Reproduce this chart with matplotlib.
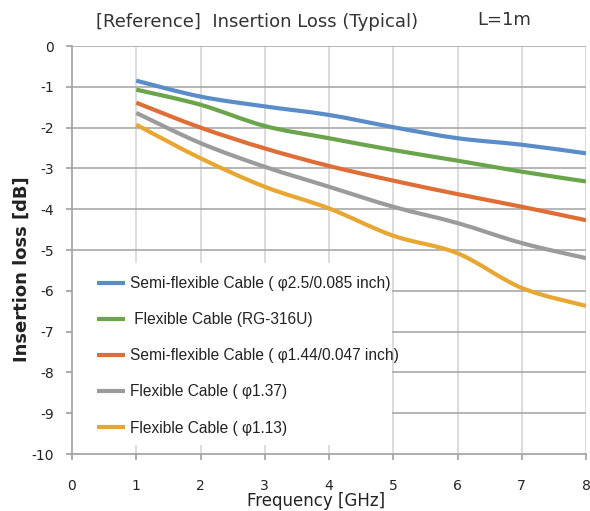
import matplotlib
matplotlib.use("Agg")
import matplotlib.pyplot as plt
import numpy as np
from matplotlib.path import Path
from matplotlib.patches import PathPatch, Rectangle
from matplotlib.lines import Line2D

plt.rcParams['axes.unicode_minus'] = False

freq = [1, 2, 3, 4, 5, 6, 7, 8]
semi_25 = [-0.85, -1.24, -1.48, -1.69, -1.99, -2.26, -2.42, -2.63]
rg316 = [-1.07, -1.44, -1.96, -2.26, -2.55, -2.81, -3.08, -3.32]
semi_144 = [-1.39, -2.00, -2.51, -2.94, -3.30, -3.63, -3.94, -4.27]
flex_137 = [-1.64, -2.38, -2.96, -3.45, -3.94, -4.34, -4.83, -5.20]
flex_113 = [-1.93, -2.75, -3.45, -3.98, -4.65, -5.08, -5.93, -6.37]

labels = ["Semi-flexible Cable ( \u03c62.5/0.085 inch)",
          " Flexible Cable (RG-316U)",
          "Semi-flexible Cable ( \u03c61.44/0.047 inch)",
          "Flexible Cable ( \u03c61.37)",
          "Flexible Cable ( \u03c61.13)"]
series = [semi_25, rg316, semi_144, flex_137, flex_113]
colors = ["#5a8dc8", "#6aa54b", "#df6d36", "#9b9b9b", "#e7a732"]

W, H = 590, 511
fig = plt.figure(figsize=(W/100, H/100), dpi=100)
ax = fig.add_axes([72/W, 1-454/H, (586-72)/W, (454-46)/H])


def smooth_path(x, y, tension=0.5):
    x = np.asarray(x, float); y = np.asarray(y, float)
    verts = [(x[0], y[0])]
    codes = [Path.MOVETO]
    n = len(x)
    for i in range(n - 1):
        p0 = np.array([x[max(i-1, 0)], y[max(i-1, 0)]])
        p1 = np.array([x[i], y[i]])
        p2 = np.array([x[i+1], y[i+1]])
        p3 = np.array([x[min(i+2, n-1)], y[min(i+2, n-1)]])
        c1 = p1 + (p2 - p0) * tension / 3
        c2 = p2 - (p3 - p1) * tension / 3
        verts += [tuple(c1), tuple(c2), tuple(p2)]
        codes += [Path.CURVE4] * 3
    return Path(verts, codes)


handles = []
for ys, c, lab in zip(series, colors, labels):
    ax.add_patch(PathPatch(smooth_path(freq, ys, 0.5), fill=False, edgecolor=c,
                           lw=3.0, capstyle='butt', joinstyle='round', zorder=3))
    handles.append(Line2D([], [], color=c, lw=3.0, solid_capstyle='butt', label=lab))

ax.set_xlim(0, 8)
ax.set_ylim(-10, 0)
ax.set_xticks(range(0, 9))
ax.set_yticks(range(-10, 1))

for x in range(1, 9):
    ax.axvline(x, color="#d6d6d6", lw=1.2, zorder=1)
for y in range(-9, 1):
    ax.axhline(y, color="#a9a9a9", lw=1.2, zorder=1)

# white legend area covering grid
ax.add_patch(Rectangle((0.0, -9.78), 4.98, 4.45, facecolor="white", edgecolor="none", zorder=2))

for s in ["top", "right"]:
    ax.spines[s].set_visible(False)
for s in ["left", "bottom"]:
    ax.spines[s].set_color("#a0a0a0")
    ax.spines[s].set_linewidth(1.2)
ax.tick_params(axis="both", direction="out", length=4, width=1.2, color="#a0a0a0",
               labelsize=10, labelcolor="#222222")
ax.tick_params(axis="y", pad=9)
ax.tick_params(axis="x", pad=14)
for t in ax.get_xticklabels() + ax.get_yticklabels():
    t.set_fontfamily(["DejaVu Sans"])

fig.text(316/W, 1-506/H, "Frequency [GHz]", ha="center", va="baseline", fontsize=12,
         family=["DejaVu Sans"], color="#222222")
fig.text(22/W, 1-269/H, "Insertion loss [dB]", ha="center", va="center", rotation=90,
         fontsize=13, fontweight="bold", family=["DejaVu Sans"], color="#222222")

fig.text(257/W, 1-22/H, "[Reference]  Insertion Loss (Typical)", ha="center", va="center",
         fontsize=13, family=["DejaVu Sans"], color="#333333")
fig.text(477/W, 1-20/H, "L=1m", ha="left", va="center",
         fontsize=13, family=["DejaVu Sans"], color="#333333")

leg = ax.legend(handles=handles, loc="upper left", bbox_to_anchor=((97-72)/514, (454-276)/408),
                frameon=False, handlelength=1.8, handletextpad=0.32,
                labelspacing=1.36, borderpad=0.0, borderaxespad=0.0,
                prop={"family": ["Liberation Sans", "DejaVu Sans"], "size": 11.2})
for t in leg.get_texts():
    t.set_color("#222222")
leg.set_zorder(4)

fig.savefig("out.png", dpi=100)
